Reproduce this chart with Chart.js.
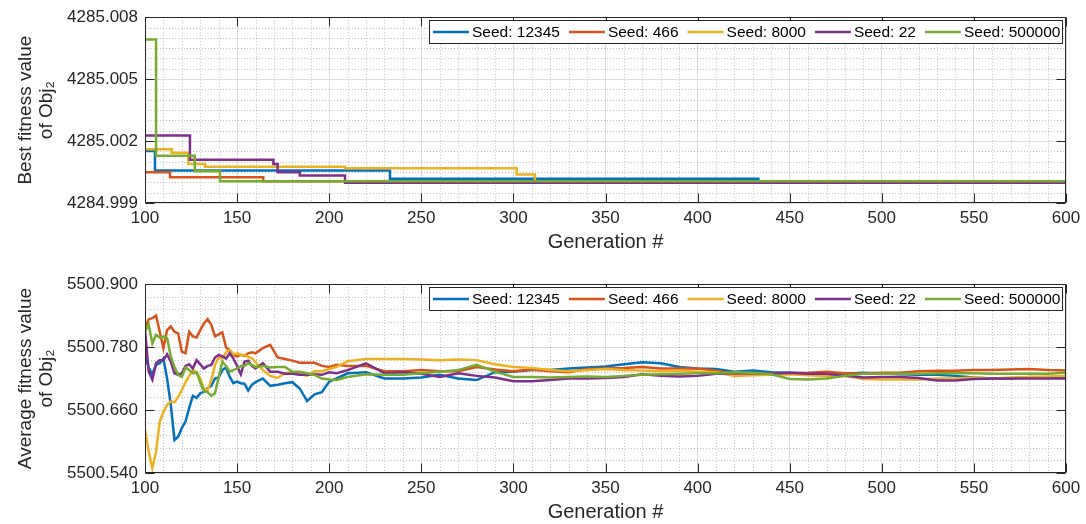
<!DOCTYPE html>
<html>
<head>
<meta charset="utf-8">
<script src="https://cdn.jsdelivr.net/npm/chart.js@4.4.0/dist/chart.umd.min.js"></script>
<style>
  html, body { margin: 0; padding: 0; background: #fff; }
  canvas { display: block; }
</style>
</head>
<body>
<canvas id="bestChart" width="1086" height="262"></canvas>
<canvas id="avgChart" width="1086" height="262"></canvas>
<script>
// ---- data ----
const seedLabels = ["Seed: 12345", "Seed: 466", "Seed: 8000", "Seed: 22", "Seed: 500000"];
const seedColors = ["#0072BD", "#D95319", "#EDB120", "#7E2F8E", "#77AC30"];

const genTicks = [100, 150, 200, 250, 300, 350, 400, 450, 500, 550, 600];
const genTickLabels = ["100", "150", "200", "250", "300", "350", "400", "450", "500", "550", "600"];

// best fitness: generation where the best value changes, and the new value
const best12345Gen = [100, 105.4, 233, 433, 600];
const best12345Val = [4285.00152, 4285.00057, 4285.00018, 4285.00005, 4285.00005];
const best466Gen = [100, 113.6, 164.2, 600];
const best466Val = [4285.00049, 4285.00025, 4285.00005, 4285.00005];
const best8000Gen = [100, 114.5, 123.5, 132.6, 208.6, 301.8, 311.7, 600];
const best8000Val = [4285.0016, 4285.00144, 4285.00089, 4285.00076, 4285.00068, 4285.00038, 4285.00005, 4285.00005];
const best22Gen = [100, 124.4, 169.7, 172, 184, 208.6, 600];
const best22Val = [4285.00227, 4285.0011, 4285.00089, 4285.00049, 4285.00033, 4284.99998, 4284.99998];
const best500000Gen = [100, 106, 127, 140.7, 600];
const best500000Val = [4285.00692, 4285.00129, 4285.00054, 4285.00005, 4285.00005];

const bestYTicks = [4284.999, 4285.002, 4285.005, 4285.008];
const bestYLabels = ["4284.999", "4285.002", "4285.005", "4285.008"];

// average fitness per generation
const avgGen = [100, 102, 104, 106, 108, 110, 112, 114, 116, 118, 120, 122, 124, 126, 128, 130,
  132, 134, 136, 138, 140, 142, 144, 146, 148, 150, 152, 154, 156, 158, 160,
  164, 168, 172, 176, 180, 184, 188, 192, 196, 200, 204,
  210, 220, 230, 240, 250, 260, 270, 280, 290, 300,
  310, 320, 330, 340, 350, 360, 370, 380, 390, 400,
  410, 420, 430, 440, 450, 460, 470, 480, 490, 500,
  510, 520, 530, 540, 550, 560, 570, 580, 590, 600];

const avg12345 = [5500.765, 5500.741, 5500.728, 5500.746, 5500.749, 5500.758, 5500.720, 5500.670, 5500.603, 5500.609,
  5500.626, 5500.638, 5500.664, 5500.687, 5500.683, 5500.692, 5500.695, 5500.702, 5500.706, 5500.720,
  5500.722, 5500.736, 5500.741, 5500.723, 5500.711, 5500.714, 5500.711, 5500.710, 5500.697, 5500.708, 5500.713,
  5500.720, 5500.706, 5500.708, 5500.711, 5500.713, 5500.701, 5500.677, 5500.690, 5500.694, 5500.714, 5500.720,
  5500.730, 5500.732, 5500.720, 5500.720, 5500.722, 5500.727, 5500.720, 5500.717, 5500.732, 5500.733,
  5500.736, 5500.736, 5500.739, 5500.741, 5500.743, 5500.747, 5500.751, 5500.749, 5500.742, 5500.739,
  5500.738, 5500.733, 5500.735, 5500.732, 5500.731, 5500.730, 5500.730, 5500.729, 5500.731, 5500.730,
  5500.728, 5500.727, 5500.727, 5500.725, 5500.722, 5500.720, 5500.720, 5500.723, 5500.722, 5500.722];

const avg466 = [5500.816, 5500.833, 5500.835, 5500.840, 5500.809, 5500.778, 5500.812, 5500.819, 5500.809, 5500.806,
  5500.771, 5500.768, 5500.809, 5500.800, 5500.798, 5500.812, 5500.825, 5500.833, 5500.822, 5500.800,
  5500.804, 5500.808, 5500.779, 5500.774, 5500.765, 5500.762, 5500.765, 5500.763, 5500.768, 5500.770, 5500.768,
  5500.778, 5500.784, 5500.760, 5500.757, 5500.754, 5500.750, 5500.750, 5500.750, 5500.744, 5500.742, 5500.746,
  5500.744, 5500.744, 5500.734, 5500.734, 5500.736, 5500.734, 5500.734, 5500.742, 5500.737, 5500.734,
  5500.737, 5500.734, 5500.732, 5500.738, 5500.739, 5500.740, 5500.742, 5500.739, 5500.739, 5500.739,
  5500.735, 5500.729, 5500.729, 5500.729, 5500.730, 5500.731, 5500.733, 5500.730, 5500.729, 5500.731,
  5500.731, 5500.734, 5500.735, 5500.735, 5500.736, 5500.736, 5500.737, 5500.738, 5500.736, 5500.735];

const avg8000 = [5500.622, 5500.581, 5500.549, 5500.581, 5500.638, 5500.656, 5500.670, 5500.676, 5500.675, 5500.685,
  5500.698, 5500.713, 5500.725, 5500.736, 5500.732, 5500.720, 5500.700, 5500.698, 5500.717, 5500.746,
  5500.760, 5500.758, 5500.770, 5500.774, 5500.766, 5500.768, 5500.765, 5500.765, 5500.761, 5500.759, 5500.751,
  5500.736, 5500.725, 5500.721, 5500.730, 5500.732, 5500.729, 5500.725, 5500.734, 5500.734, 5500.738, 5500.742,
  5500.753, 5500.757, 5500.757, 5500.757, 5500.756, 5500.755, 5500.756, 5500.755, 5500.747, 5500.742,
  5500.740, 5500.736, 5500.734, 5500.736, 5500.738, 5500.736, 5500.735, 5500.734, 5500.735, 5500.733,
  5500.732, 5500.725, 5500.726, 5500.727, 5500.728, 5500.726, 5500.725, 5500.725, 5500.719, 5500.718,
  5500.718, 5500.718, 5500.720, 5500.720, 5500.722, 5500.720, 5500.722, 5500.723, 5500.724, 5500.725];

const avg22 = [5500.812, 5500.733, 5500.718, 5500.749, 5500.755, 5500.755, 5500.766, 5500.752, 5500.730, 5500.727,
  5500.730, 5500.744, 5500.747, 5500.739, 5500.755, 5500.747, 5500.739, 5500.744, 5500.746, 5500.760,
  5500.765, 5500.762, 5500.758, 5500.768, 5500.758, 5500.744, 5500.728, 5500.752, 5500.754, 5500.744, 5500.739,
  5500.749, 5500.733, 5500.733, 5500.729, 5500.729, 5500.727, 5500.727, 5500.728, 5500.727, 5500.732, 5500.730,
  5500.736, 5500.749, 5500.730, 5500.732, 5500.729, 5500.723, 5500.730, 5500.725, 5500.722, 5500.715,
  5500.715, 5500.717, 5500.720, 5500.720, 5500.721, 5500.723, 5500.728, 5500.725, 5500.724, 5500.725,
  5500.729, 5500.730, 5500.730, 5500.729, 5500.731, 5500.729, 5500.729, 5500.725, 5500.722, 5500.723,
  5500.723, 5500.721, 5500.716, 5500.716, 5500.719, 5500.720, 5500.720, 5500.720, 5500.720, 5500.720];

const avg500000 = [5500.809, 5500.823, 5500.787, 5500.803, 5500.798, 5500.800, 5500.797, 5500.762, 5500.742, 5500.727,
  5500.723, 5500.741, 5500.736, 5500.730, 5500.732, 5500.713, 5500.696, 5500.694, 5500.687, 5500.692,
  5500.723, 5500.752, 5500.744, 5500.733, 5500.736, 5500.739, 5500.744, 5500.744, 5500.749, 5500.746, 5500.742,
  5500.744, 5500.741, 5500.742, 5500.742, 5500.733, 5500.733, 5500.730, 5500.727, 5500.720, 5500.718, 5500.717,
  5500.723, 5500.728, 5500.727, 5500.727, 5500.730, 5500.733, 5500.736, 5500.746, 5500.733, 5500.723,
  5500.723, 5500.722, 5500.723, 5500.724, 5500.723, 5500.725, 5500.727, 5500.728, 5500.729, 5500.730,
  5500.730, 5500.732, 5500.731, 5500.728, 5500.719, 5500.718, 5500.720, 5500.725, 5500.729, 5500.729,
  5500.729, 5500.729, 5500.730, 5500.730, 5500.730, 5500.729, 5500.729, 5500.729, 5500.729, 5500.731];

const avgYTicks = [5500.54, 5500.66, 5500.78, 5500.90];
const avgYLabels = ["5500.540", "5500.660", "5500.780", "5500.900"];

// ---- helpers ----
const FONT = "'Liberation Sans', Arial, Helvetica, sans-serif";
const AXIS_COLOR = "#262626";

function pairs(xs, ys) {
  return xs.map((x, i) => ({ x: x, y: ys[i] }));
}

function makeDatasets(series, stepped) {
  return series.map((s, i) => ({
    label: seedLabels[i],
    data: s,
    borderColor: seedColors[i],
    backgroundColor: seedColors[i],
    borderWidth: 2.5,
    pointRadius: 0,
    tension: 0,
    stepped: stepped,
    order: series.length - i   // later seeds drawn on top
  }));
}

// subdivide each major interval into n minor steps
function minorValues(majors, n) {
  const out = [];
  for (let i = 0; i < majors.length - 1; i++) {
    const step = (majors[i + 1] - majors[i]) / n;
    for (let k = 1; k < n; k++) out.push(majors[i] + k * step);
  }
  return out;
}

function hline(ctx, x1, x2, y) { ctx.beginPath(); ctx.moveTo(x1, y); ctx.lineTo(x2, y); ctx.stroke(); }
function vline(ctx, x, y1, y2) { ctx.beginPath(); ctx.moveTo(x, y1); ctx.lineTo(x, y2); ctx.stroke(); }

// minor dotted grid, axes box with inward ticks, boxed legend
const matFrame = {
  id: "matFrame",
  beforeDatasetsDraw(chart, args, opts) {
    const { ctx, chartArea: a, scales: { x, y } } = chart;
    ctx.save();
    ctx.strokeStyle = "rgba(0,0,0,0.23)";
    ctx.lineWidth = 1;
    ctx.setLineDash([1, 2]);
    minorValues(genTicks, 5).forEach(v => {
      const px = Math.round(x.getPixelForValue(v)) + 0.5;
      vline(ctx, px, a.top, a.bottom);
    });
    minorValues(opts.yTicks, opts.yMinor).forEach(v => {
      const py = Math.round(y.getPixelForValue(v)) + 0.5;
      hline(ctx, a.left, a.right, py);
    });
    ctx.restore();
  },
  afterDatasetsDraw(chart, args, opts) {
    const { ctx, chartArea: a, scales: { x, y } } = chart;
    ctx.save();
    ctx.strokeStyle = AXIS_COLOR;
    ctx.lineWidth = 1;
    const L = Math.round(a.left) + 0.5, R = Math.round(a.right) - 0.5;
    const T = Math.round(a.top) + 0.5, B = Math.round(a.bottom) - 0.5;
    ctx.strokeRect(L, T, R - L, B - T);
    const tl = 9;
    genTicks.forEach(v => {
      const px = Math.round(x.getPixelForValue(v)) + 0.5;
      vline(ctx, px, B, B - tl);
      vline(ctx, px, T, T + tl);
    });
    opts.yTicks.forEach(v => {
      const py = Math.round(y.getPixelForValue(v)) + 0.5;
      hline(ctx, L, L + tl, py);
      hline(ctx, R, R - tl, py);
    });

    // legend
    ctx.font = "15.5px " + FONT;
    const sample = 36, gapIn = 3, gapOut = 9, padL = 4, padR = 2, h = 23;
    const items = chart.data.datasets.map(ds => ({
      label: ds.label, color: ds.borderColor, w: ctx.measureText(ds.label).width
    }));
    let total = padL + padR;
    items.forEach((it, i) => { total += sample + gapIn + it.w + (i < items.length - 1 ? gapOut : 0); });
    total = Math.round(total);
    const right = Math.round(a.right) - 4;
    const left = right - total;
    const top = Math.round(a.top) + 3;
    ctx.fillStyle = "#fff";
    ctx.fillRect(left, top, total, h);
    ctx.strokeStyle = AXIS_COLOR;
    ctx.strokeRect(left + 0.5, top + 0.5, total, h);
    const cy = top + h / 2 + 0.5;
    let cx = left + padL;
    ctx.textBaseline = "middle";
    items.forEach(it => {
      ctx.strokeStyle = it.color;
      ctx.lineWidth = 2.5;
      hline(ctx, cx, cx + sample, cy);
      cx += sample + gapIn;
      ctx.fillStyle = "#000";
      ctx.fillText(it.label, cx, cy + 1);
      cx += it.w + gapOut;
    });
    ctx.restore();
  }
};

function makeOptions(cfg) {
  return {
    responsive: false,
    animation: false,
    events: [],
    layout: { padding: { left: 0, right: 20, top: cfg.padTop, bottom: 0 } },
    plugins: {
      legend: { display: false },
      tooltip: { enabled: false },
      matFrame: { yTicks: cfg.yTicks, yMinor: cfg.yMinor }
    },
    scales: {
      x: {
        type: "linear",
        min: 100,
        max: 600,
        afterBuildTicks: s => { s.ticks = genTicks.map(v => ({ value: v })); },
        afterFit: s => { s.height = cfg.xHeight; },
        grid: { color: "#dedede", lineWidth: 1, drawTicks: false },
        border: { display: false },
        ticks: {
          padding: 5,
          maxRotation: 0,
          autoSkip: false,
          color: AXIS_COLOR,
          font: { family: FONT, size: 17 },
          callback: v => genTickLabels[genTicks.indexOf(v)]
        },
        title: {
          display: true,
          text: "Generation #",
          color: AXIS_COLOR,
          font: { family: FONT, size: 20, lineHeight: 1.2 },
          padding: { top: 0, bottom: cfg.xTitlePad }
        }
      },
      y: {
        type: "linear",
        min: cfg.yTicks[0],
        max: cfg.yTicks[cfg.yTicks.length - 1],
        afterBuildTicks: s => { s.ticks = cfg.yTicks.map(v => ({ value: v })); },
        afterFit: s => { s.width = 145; },
        grid: { color: "#dedede", lineWidth: 1, drawTicks: false },
        border: { display: false },
        ticks: {
          padding: 7,
          color: AXIS_COLOR,
          font: { family: FONT, size: 17 },
          callback: (v, i) => cfg.yLabels[i]
        },
        title: {
          display: true,
          text: cfg.yTitle,
          color: AXIS_COLOR,
          font: { family: FONT, size: 19, lineHeight: 1.1 },
          padding: { top: 15.5, bottom: 0 }
        }
      }
    }
  };
}

// ---- top panel: best fitness ----
new Chart(document.getElementById("bestChart"), {
  type: "line",
  data: {
    datasets: makeDatasets([
      pairs(best12345Gen, best12345Val),
      pairs(best466Gen, best466Val),
      pairs(best8000Gen, best8000Val),
      pairs(best22Gen, best22Val),
      pairs(best500000Gen, best500000Val)
    ], true)
  },
  options: makeOptions({
    padTop: 14, xHeight: 59, xTitlePad: 8,
    yTicks: bestYTicks, yLabels: bestYLabels, yMinor: 6,
    yTitle: ["Best fitness value", "of Obj\u2082"]
  }),
  plugins: [matFrame]
});

// ---- bottom panel: average fitness ----
new Chart(document.getElementById("avgChart"), {
  type: "line",
  data: {
    datasets: makeDatasets([
      pairs(avgGen, avg12345),
      pairs(avgGen, avg466),
      pairs(avgGen, avg8000),
      pairs(avgGen, avg22),
      pairs(avgGen, avg500000)
    ], false)
  },
  options: makeOptions({
    padTop: 22, xHeight: 51, xTitlePad: 0,
    yTicks: avgYTicks, yLabels: avgYLabels, yMinor: 5,
    yTitle: ["Average fitness value", "of Obj\u2082"]
  }),
  plugins: [matFrame]
});
</script>
</body>
</html>
